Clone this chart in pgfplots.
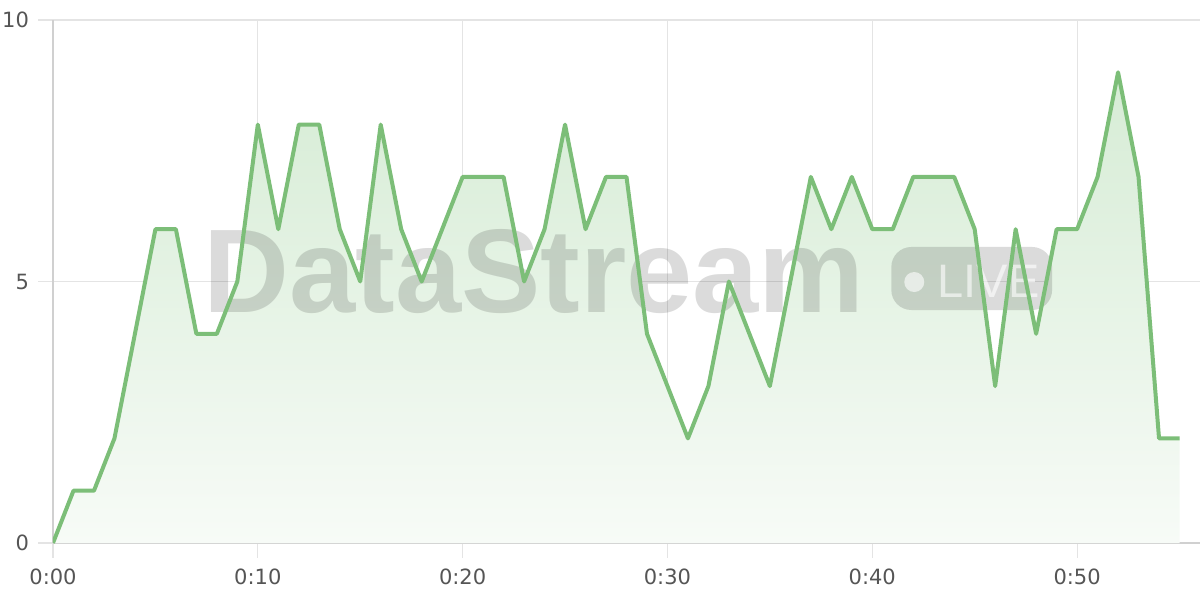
\documentclass[border=0pt]{standalone}
\usepackage{fontspec}
\setmainfont{Liberation Sans}
\newfontfamily\tickfont{DejaVu Sans}
\usepackage{pgfplots}
\usepackage{pgfplotstable}
\pgfplotsset{compat=1.18}

\definecolor{linegreen}{RGB}{124,190,120}
\definecolor{filltop}{RGB}{214,236,213}
\definecolor{fillbot}{RGB}{247,251,247}
\definecolor{gridgray}{RGB}{228,228,228}
\definecolor{axisgray}{RGB}{208,208,208}
\definecolor{labelgray}{RGB}{85,85,85}

% minutes vs. value
\pgfplotstableread{
t v
0 0
1 1
2 1
3 2
4 4
5 6
6 6
7 4
8 4
9 5
10 8
11 6
12 8
13 8
14 6
15 5
16 8
17 6
18 5
19 6
20 7
21 7
22 7
23 5
24 6
25 8
26 6
27 7
28 7
29 4
30 3
31 2
32 3
33 5
34 4
35 3
36 5
37 7
38 6
39 7
40 6
41 6
42 7
43 7
44 7
45 6
46 3
47 6
48 4
49 6
50 6
51 7
52 9
53 7
54 2
55 2
}\streamdata

\begin{document}
\begin{tikzpicture}
\useasboundingbox (0,0) rectangle (600pt,300pt);
\begin{axis}[
    at={(26.5pt,28.5pt)}, anchor=south west,
    width=573.5pt, height=261.5pt, scale only axis,
    xmin=0, xmax=56, ymin=0, ymax=10,
    axis lines*=left,
    axis line style={draw=axisgray, line width=0.8pt},
    grid=major,
    grid style={draw=gridgray, line width=0.6pt},
    tick align=outside,
    major tick length=7.5pt,
    tick style={draw=gridgray, line width=0.6pt},
    xtick={0,10,20,30,40,50},
    xticklabels={0:00,0:10,0:20,0:30,0:40,0:50},
    ytick={0,5,10},
    ticklabel style={font=\tickfont\fontsize{10.5}{12}\selectfont, text=labelgray},
    xticklabel style={yshift=-2pt},
    yticklabel style={xshift=-1pt},
    /pgf/number format/assume math mode=true,
]
\addplot[draw=none, top color=filltop, bottom color=fillbot] table[x=t, y=v] {\streamdata} \closedcycle;

% watermark
\node[anchor=base west, inner sep=0, text=black, text opacity=0.14,
      font=\fontsize{59.5}{60}\selectfont\bfseries] at (axis cs:7.32,4.40) {DataStream};
\fill[black, opacity=0.14, rounded corners=10pt] (axis cs:40.93,4.455) rectangle (axis cs:48.78,5.66);
\fill[white, opacity=0.6] (axis cs:42.05,4.99) circle (5pt);
\node[anchor=base west, inner sep=0, text=white, text opacity=0.6,
      font=\fontsize{23.5}{24}\selectfont] at (axis cs:43.17,4.70) {LIVE};

\addplot[linegreen, line width=2pt, line join=round] table[x=t, y=v] {\streamdata};
\end{axis}
\end{tikzpicture}
\end{document}
